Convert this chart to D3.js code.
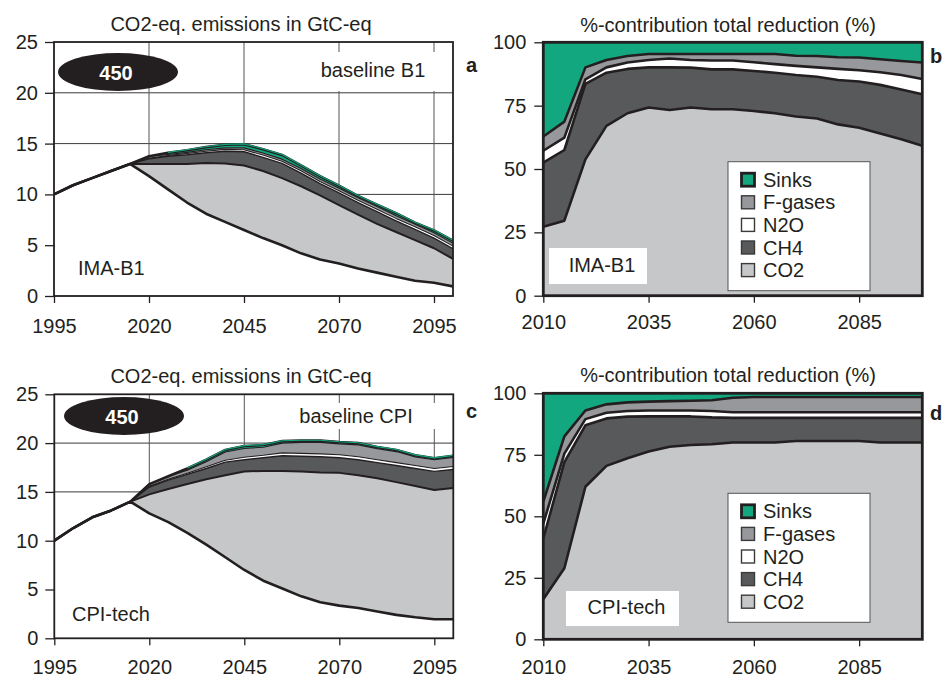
<!DOCTYPE html>
<html>
<head>
<meta charset="utf-8">
<script src="https://cdn.jsdelivr.net/npm/d3@7"></script>
<style>
  body { margin: 0; background: #fff; }
  text { font-family: "Liberation Sans", Arial, Helvetica, sans-serif; fill: #231f20; }
</style>
</head>
<body>
<svg id="fig" width="943" height="677"></svg>
<script>
// ---- emission pathways (GtC-eq), 1995-2100 in 5-year steps ----
const emisYears = [1995,2000,2005,2010,2015,2020,2025,2030,2035,2040,2045,2050,2055,2060,2065,2070,2075,2080,2085,2090,2095,2100];

// IMA-B1, 450 ppm: remaining emissions and reduction per gas relative to baseline B1
const b1Emis  = [10.0,10.9,11.6,12.3,13.0,11.8,10.5,9.2,8.1,7.3,6.5,5.7,5.0,4.2,3.6,3.2,2.7,2.3,1.9,1.5,1.3,0.95];
const b1CO2   = [0,0,0,0,0,1.2,2.5,3.8,5.0,5.75,6.35,6.6,6.6,6.6,6.3,5.75,5.3,4.8,4.4,4.0,3.4,2.7];
const b1CH4   = [0,0,0,0,0,0.5,0.75,0.9,1.0,1.2,1.35,1.35,1.45,1.3,1.15,1.2,1.2,1.2,1.1,1.05,1.0,1.0];
const b1N2O   = [0,0,0,0,0,0.05,0.08,0.12,0.15,0.18,0.2,0.22,0.22,0.22,0.22,0.22,0.22,0.24,0.24,0.26,0.26,0.26];
const b1Fgas  = [0,0,0,0,0,0.2,0.1,0.12,0.14,0.15,0.18,0.2,0.2,0.22,0.24,0.24,0.26,0.26,0.26,0.26,0.26,0.28];
const b1Sinks = [0,0,0,0,0,0,0.17,0.21,0.26,0.3,0.35,0.38,0.41,0.31,0.29,0.24,0.17,0.2,0.25,0.15,0.23,0.26];

// CPI-tech, 450 ppm: remaining emissions and reduction per gas relative to baseline CPI
const cpiEmis  = [10.0,11.3,12.4,13.1,14.0,12.8,11.9,10.8,9.6,8.3,7.0,5.9,5.1,4.3,3.7,3.35,3.1,2.75,2.4,2.15,1.95,1.95];
const cpiCO2   = [0,0,0,0,0,1.95,3.4,5.0,6.7,8.4,10.1,11.25,12.05,12.8,13.3,13.6,13.6,13.65,13.6,13.45,13.25,13.45];
const cpiCH4   = [0,0,0,0,0,0.75,0.9,1.0,1.1,1.35,1.2,1.35,1.55,1.55,1.6,1.55,1.6,1.6,1.7,1.8,1.9,1.9];
const cpiN2O   = [0,0,0,0,0,0.08,0.1,0.12,0.18,0.2,0.25,0.25,0.3,0.3,0.3,0.3,0.3,0.3,0.3,0.3,0.3,0.3];
const cpiFgas  = [0,0,0,0,0,0.22,0.3,0.3,0.52,0.83,0.9,0.83,1.0,1.12,1.17,1.12,1.22,1.13,1.13,0.89,0.89,0.94];
const cpiSinks = [0,0,0,0,0,0,0,0.18,0.2,0.22,0.25,0.22,0.2,0.18,0.18,0.18,0.18,0.17,0.17,0.16,0.16,0.16];

// ---- share of total reduction (%), 2010-2100 in 5-year steps ----
const shareYears = [2010,2015,2020,2025,2030,2035,2040,2045,2050,2055,2060,2065,2070,2075,2080,2085,2090,2095,2100];

const b1PctCO2   = [27.2,29.6,53.8,67,72,74.3,73.3,74.3,73.6,73.6,72.9,72,70.7,69.9,67.6,66.3,64,61.7,59.2];
const b1PctCH4   = [25.3,27.9,29.8,21,17.5,15.8,16.8,15.7,15.7,15.7,15.8,16,16.4,16.5,17.5,18.2,19.2,19.7,20.3];
const b1PctN2O   = [4.7,4.9,1.8,2.1,2.5,2.9,3.5,3.0,3.5,3.5,3.4,3.4,3.6,3.7,4.4,4.5,5.0,5.7,6.0];
const b1PctFgas  = [5.6,6.3,4.7,2.9,2.6,2.4,1.8,2.4,2.6,2.6,3.3,4.0,4.0,4.5,4.6,5.0,5.1,5.5,6.5];
const b1PctSinks = [37.2,31.3,9.9,7,5.4,4.6,4.6,4.6,4.6,4.6,4.6,4.6,5.3,5.4,5.9,6,6.7,7.4,8];

const cpiPctCO2   = [16.3,28.9,62,70.5,73.6,76.3,78.3,79,79.3,80,80,80,80.6,80.6,80.6,80.6,80,80,80];
const cpiPctCH4   = [24.7,43.1,25,19.3,16.9,14.3,12.3,11.6,10.9,10,10,10,9.4,9.4,9.4,9.4,10,10,10];
const cpiPctN2O   = [6,3.5,2.5,2.3,2.3,2.4,2.4,2.4,2.6,2.3,2.3,2.3,2.3,2.3,2.3,2.3,2.3,2.3,2.3];
const cpiPctFgas  = [9,7,3.5,3.4,3.5,3.6,3.8,4.0,4.4,5.9,6.2,6.2,6.2,6.2,6.2,6.2,6.2,6.2,6.2];
const cpiPctSinks = [44,17.5,7,4.5,3.7,3.4,3.2,3,2.8,1.8,1.5,1.5,1.5,1.5,1.5,1.5,1.5,1.5,1.5];

// ---- axis ticks and labels ----
const emisXTicks = [1995,2020,2045,2070,2095];
const emisYTicks = [0,5,10,15,20,25];
const shareXTicks = [2010,2035,2060,2085];
const shareYTicks = [0,25,50,75,100];
const gasNames = ["CO2","CH4","N2O","F-gases","Sinks"];
const legendOrder = ["Sinks","F-gases","N2O","CH4","CO2"];

const colors = { "CO2": "#c6c7c9", "CH4": "#58595b", "N2O": "#ffffff", "F-gases": "#97989b", "Sinks": "#12a77f" };
const ink = "#231f20";

const svg = d3.select("#fig");
let clipId = 0;

function styleAxis(g) {
  g.select(".domain").remove();
  g.selectAll(".tick line").attr("stroke", ink).attr("stroke-width", 1.3);
  g.selectAll(".tick text").style("font-size", "20px").attr("fill", ink);
}

function clipRect(x0, y0, w, h) {
  const id = "clip" + (clipId++);
  svg.append("clipPath").attr("id", id).append("rect")
    .attr("x", x0).attr("y", y0).attr("width", w).attr("height", h);
  return "url(#" + id + ")";
}

// ---------- emissions panel: stacked reductions on top of remaining emissions ----------
function emissionsPanel(p) {
  const x = d3.scaleLinear().domain([1995, 2100]).range([p.left, p.right]);
  const y = d3.scaleLinear().domain([0, 25]).range([p.bottom, p.top]);
  const g = svg.append("g");
  const layers = [p.co2, p.ch4, p.n2o, p.fgas, p.sinks];

  const rows = emisYears.map((yr, i) => {
    const r = { year: yr, base: p.emis[i], tops: [], sinks: p.sinks[i] };
    let c = p.emis[i];
    layers.forEach(l => { c += l[i]; r.tops.push(c); });
    return r;
  });

  const clip = clipRect(p.left, p.top, p.right - p.left, p.bottom - p.top);
  const plot = g.append("g").attr("clip-path", clip);

  // grid
  plot.selectAll(".hg").data(emisYTicks.filter(v => v > 0 && v < 25)).join("line")
    .attr("x1", p.left).attr("x2", p.right).attr("y1", d => y(d)).attr("y2", d => y(d))
    .attr("stroke", "#3a3a3a").attr("stroke-width", 1);
  plot.selectAll(".vg").data(emisXTicks.filter(v => v > 1995)).join("line")
    .attr("x1", d => x(d)).attr("x2", d => x(d)).attr("y1", p.top).attr("y2", p.bottom)
    .attr("stroke", "#555").attr("stroke-width", 1);

  // white backdrop behind the baseline label
  plot.append("rect").attr("x", p.blRect[0]).attr("y", p.blRect[1])
    .attr("width", p.blRect[2]).attr("height", p.blRect[3]).attr("fill", "#fff");

  // area under the remaining emissions
  plot.append("path").datum(rows)
    .attr("d", d3.area().x(d => x(d.year)).y0(y(0)).y1(d => y(d.base)))
    .attr("fill", "#fff");

  // stacked reduction layers
  gasNames.forEach((name, k) => {
    plot.append("path").datum(rows)
      .attr("d", d3.area().x(d => x(d.year))
        .y0(d => y(k === 0 ? d.base : d.tops[k - 1]))
        .y1(d => y(d.tops[k])))
      .attr("fill", colors[name]);
  });

  // boundary lines
  const widths = [2, 1.4, 1.1, 1.1, 2.6];
  const lineOf = f => d3.line().x(d => x(d.year)).y(f);
  plot.append("path").datum(rows).attr("d", lineOf(d => y(d.base)))
    .attr("fill", "none").attr("stroke", ink).attr("stroke-width", 2.6).attr("stroke-linejoin", "round");
  [0, 1, 2, 3, 4].forEach(k => {
    plot.append("path").datum(rows).attr("d", lineOf(d => y(d.tops[k])))
      .attr("fill", "none").attr("stroke", ink).attr("stroke-width", widths[k]).attr("stroke-linejoin", "round");
  });
  // green sink edge along the top of the stack
  plot.append("path").datum(rows)
    .attr("d", d3.line().defined(d => d.sinks > 0).x(d => x(d.year)).y(d => y(d.tops[4]) - 0.4))
    .attr("fill", "none").attr("stroke", colors["Sinks"]).attr("stroke-width", 1.1);

  // frame
  g.append("rect").attr("x", p.left).attr("y", p.top)
    .attr("width", p.right - p.left).attr("height", p.bottom - p.top)
    .attr("fill", "none").attr("stroke", ink).attr("stroke-width", 1.8);

  // axes
  g.append("g").attr("transform", `translate(${p.left},0)`)
    .call(d3.axisLeft(y).tickValues(emisYTicks).tickSize(9).tickPadding(7)).call(styleAxis);
  g.append("g").attr("transform", `translate(0,${p.bottom})`)
    .call(d3.axisBottom(x).tickValues(emisXTicks).tickFormat(d3.format("d")).tickSize(7).tickPadding(p.xPad)).call(styleAxis);

  // title and labels
  g.append("text").attr("x", 241).attr("y", p.titleY).attr("text-anchor", "middle")
    .style("font-size", "20px").text("CO2-eq. emissions in GtC-eq");
  g.append("text").attr("x", p.blX).attr("y", p.blY).attr("text-anchor", "middle")
    .style("font-size", "20px").text(p.baselineLabel);
  g.append("text").attr("x", p.scX).attr("y", p.scY)
    .style("font-size", "20px").text(p.scenario);

  // target badge
  g.append("ellipse").attr("cx", p.ell[0]).attr("cy", p.ell[1]).attr("rx", 60).attr("ry", 19).attr("fill", ink);
  g.append("text").attr("x", p.ell[0] - 2).attr("y", p.ell[1] + 7.5).attr("text-anchor", "middle")
    .style("font-size", "20px").style("font-weight", "bold").style("fill", "#fff").text("450");

  g.append("text").attr("x", 466).attr("y", p.letterY)
    .style("font-size", "20px").style("font-weight", "bold").text(p.letter);
}

// ---------- share panel: stacked percentages of total reduction ----------
function sharePanel(p) {
  const x = d3.scaleLinear().domain([2010, 2100]).range([p.left, p.right]);
  const y = d3.scaleLinear().domain([0, 100]).range([p.bottom, p.top]);
  const g = svg.append("g");
  const layers = [p.co2, p.ch4, p.n2o, p.fgas, p.sinks];

  const rows = shareYears.map((yr, i) => {
    const r = { year: yr, tops: [] };
    let c = 0;
    layers.forEach(l => { c += l[i]; r.tops.push(c); });
    return r;
  });

  const clip = clipRect(p.left, p.top, p.right - p.left, p.bottom - p.top);
  const plot = g.append("g").attr("clip-path", clip);

  gasNames.forEach((name, k) => {
    plot.append("path").datum(rows)
      .attr("d", d3.area().x(d => x(d.year))
        .y0(d => y(k === 0 ? 0 : d.tops[k - 1]))
        .y1(d => y(d.tops[k])))
      .attr("fill", colors[name]);
  });
  [0, 1, 2, 3].forEach(k => {
    plot.append("path").datum(rows)
      .attr("d", d3.line().x(d => x(d.year)).y(d => y(d.tops[k])))
      .attr("fill", "none").attr("stroke", ink).attr("stroke-width", 2.6).attr("stroke-linejoin", "round");
  });

  g.append("rect").attr("x", p.left).attr("y", p.top)
    .attr("width", p.right - p.left).attr("height", p.bottom - p.top)
    .attr("fill", "none").attr("stroke", ink).attr("stroke-width", 2.8);

  g.append("g").attr("transform", `translate(${p.left},0)`)
    .call(d3.axisLeft(y).tickValues(shareYTicks).tickSize(9).tickPadding(8)).call(styleAxis);
  g.append("g").attr("transform", `translate(0,${p.bottom})`)
    .call(d3.axisBottom(x).tickValues(shareXTicks).tickFormat(d3.format("d")).tickSize(7).tickPadding(p.xPad)).call(styleAxis);

  g.append("text").attr("x", 728).attr("y", p.titleY).attr("text-anchor", "middle")
    .style("font-size", "20px").text("%-contribution total reduction (%)");

  // scenario tag
  g.append("rect").attr("x", p.tag[0]).attr("y", p.tag[1]).attr("width", p.tag[2]).attr("height", p.tag[3]).attr("fill", "#fff");
  g.append("text").attr("x", p.tag[0] + p.tag[2] / 2 + 4).attr("y", p.tag[1] + p.tag[3] - 12.5)
    .attr("text-anchor", "middle").style("font-size", "20px").text(p.scenario);

  // legend
  const lg = g.append("g").attr("transform", `translate(728,${p.legendTop})`);
  lg.append("rect").attr("width", 142).attr("height", 129).attr("fill", "#fff")
    .attr("stroke", "#555").attr("stroke-width", 1);
  legendOrder.forEach((name, i) => {
    const cy = 18 + i * 22.6;
    lg.append("rect").attr("x", 13.5).attr("y", cy - 6.5).attr("width", 13).attr("height", 13)
      .attr("fill", colors[name]).attr("stroke", name === "Sinks" ? ink : "#3a3a3a")
      .attr("stroke-width", name === "Sinks" ? 2.8 : 1.4);
    lg.append("text").attr("x", 35).attr("y", cy + 7.2).style("font-size", "20px").text(name);
  });

  g.append("text").attr("x", 930).attr("y", p.letterY)
    .style("font-size", "20px").style("font-weight", "bold").text(p.letter);
}

emissionsPanel({
  left: 54, right: 453, top: 42, bottom: 296, xPad: 16, titleY: 31,
  emis: b1Emis, co2: b1CO2, ch4: b1CH4, n2o: b1N2O, fgas: b1Fgas, sinks: b1Sinks,
  baselineLabel: "baseline B1", blX: 373, blY: 77, blRect: [300, 52, 147, 39],
  scenario: "IMA-B1", scX: 78, scY: 275, ell: [118, 72], letter: "a", letterY: 72
});
emissionsPanel({
  left: 54.3, right: 453.3, top: 394.3, bottom: 638.3, xPad: 15, titleY: 383,
  emis: cpiEmis, co2: cpiCO2, ch4: cpiCH4, n2o: cpiN2O, fgas: cpiFgas, sinks: cpiSinks,
  baselineLabel: "baseline CPI", blX: 356, blY: 423, blRect: [290, 403, 157, 26],
  scenario: "CPI-tech", scX: 72, scY: 621, ell: [124, 416], letter: "c", letterY: 418
});
sharePanel({
  left: 543.3, right: 922.3, top: 42.3, bottom: 295.7, xPad: 12, titleY: 31.5,
  co2: b1PctCO2, ch4: b1PctCH4, n2o: b1PctN2O, fgas: b1PctFgas, sinks: b1PctSinks,
  scenario: "IMA-B1", tag: [549, 248, 98, 36], legendTop: 161.7, letter: "b", letterY: 63
});
sharePanel({
  left: 543.3, right: 922.3, top: 393.3, bottom: 639.3, xPad: 13.5, titleY: 381.5,
  co2: cpiPctCO2, ch4: cpiPctCH4, n2o: cpiPctN2O, fgas: cpiPctFgas, sinks: cpiPctSinks,
  scenario: "CPI-tech", tag: [566, 591, 113, 35], legendTop: 493.3, letter: "d", letterY: 420
});
</script>
</body>
</html>
